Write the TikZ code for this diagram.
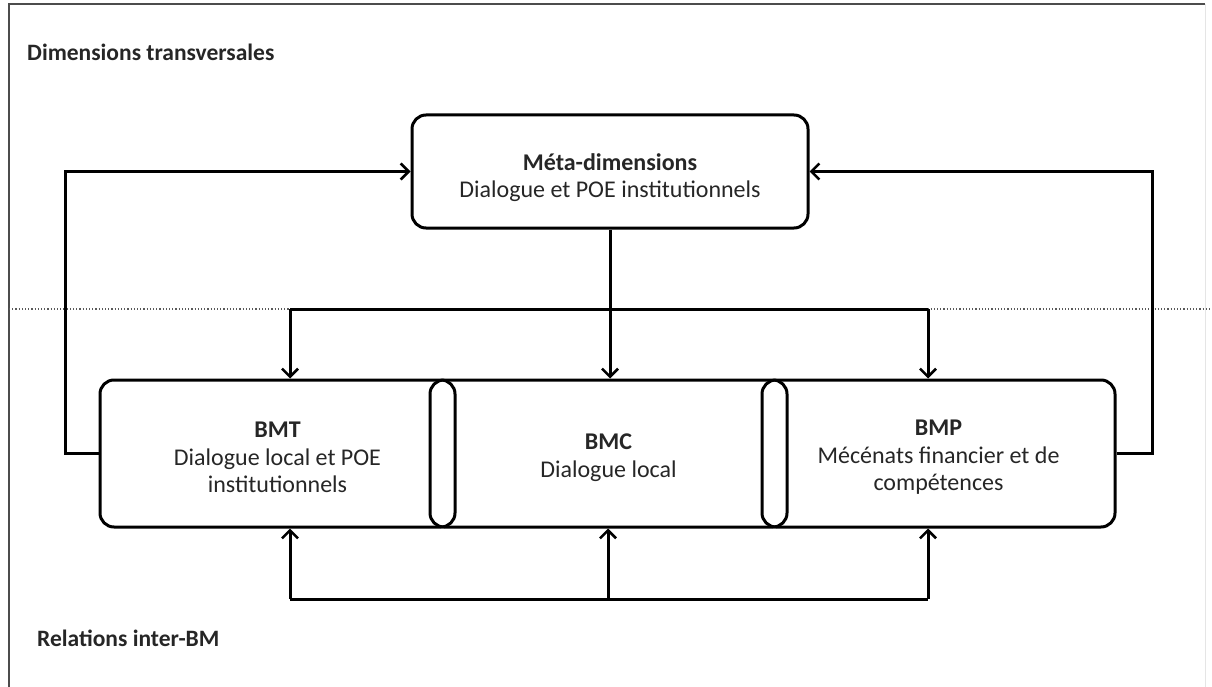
\documentclass[tikz,border=0pt]{standalone}
\usepackage{fontspec}
\setmainfont{Carlito}
\usetikzlibrary{arrows.meta}
\begin{document}
\begin{tikzpicture}[x=1pt,y=-1pt,
  box/.style={draw, line width=3, rounded corners=14, inner sep=0},
  txt/.style={inner sep=0, align=center, font=\fontsize{24}{27.5}\selectfont, text=black!85},
  arr/.style={line width=3, -{Straight Barb[length=8,width=16,line width=2.6]}},
  conn/.style={line width=3},
  lbl/.style={font=\fontsize{23.5}{27}\selectfont\bfseries, anchor=west, inner sep=0, text=black!85}]
\useasboundingbox (0,0) rectangle (1212,687);
\draw[black!70, line width=2] (9,687) -- (9,4) -- (1205,4);
\draw[black!10, line width=1] (1205,4) -- (1205,687);
\draw[black!65, line width=1.2, dotted] (9,309) -- (1212,309);
\node[lbl] (dt) at (27,52) {Dimensions transversales};
\node[lbl] (rib) at (37,638) {Relations inter-BM};
\node[box, minimum width=396, minimum height=113] (meta) at (610,171.5) {};
\node[box, minimum width=355, minimum height=147] (bmt) at (277.5,453.5) {};
\node[box, minimum width=357, minimum height=147] (bmc) at (608.5,453.5) {};
\node[box, minimum width=353, minimum height=147] (bmp) at (938.5,453.5) {};
\node[txt] (metat) at ([yshift=-6]meta.center) {\textbf{Méta-dimensions}\\Dialogue et POE institutionnels};
\node[txt] (bmtt) at ([yshift=-4]bmt.center) {\textbf{BMT}\\Dialogue local et POE\\institutionnels};
\node[txt] (bmct) at ([yshift=-4]bmc.center) {\textbf{BMC}\\Dialogue local};
\node[txt] (bmpt) at ([yshift=-4]bmp.center) {\textbf{BMP}\\Mécénats financier et de\\compétences};
% top distribution
\coordinate (tl) at (290,309);
\coordinate (tr) at (928,309);
\draw[conn] (tl) -- (tr);
\draw[arr] (tl) -- (tl |- bmt.north);
\draw[arr] (tr) -- (tr |- bmp.north);
\draw[arr] (meta.south) -- (meta.south |- bmc.north);
% bottom relations
\coordinate (bl) at (290,599);
\coordinate (bm) at (608,599);
\coordinate (br) at (928,599);
\draw[conn] (bl) -- (br);
\draw[arr] (bl) -- (bl |- bmt.south);
\draw[arr] (bm) -- (bm |- bmc.south);
\draw[arr] (br) -- (br |- bmp.south);
% side feedback
\coordinate (lc) at (65,453.5);
\coordinate (rc) at (1152,453.5);
\draw[arr] (bmt.west) -- (lc) |- (meta.west);
\draw[arr] (bmp.east) -- (rc) |- (meta.east);
\end{tikzpicture}
\end{document}
